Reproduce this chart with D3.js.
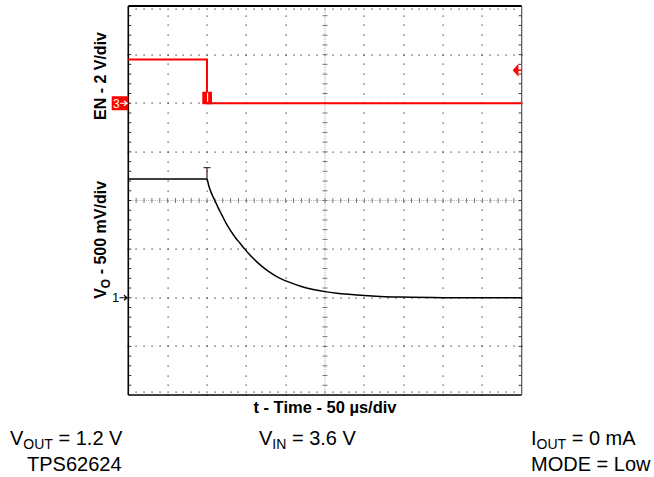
<!DOCTYPE html>
<html>
<head>
<meta charset="utf-8">
<script src="https://cdn.jsdelivr.net/npm/d3@7"></script>
<style>
  html, body { margin: 0; padding: 0; background: #fff; }
  svg { display: block; }
  text { font-family: "Liberation Sans", Arial, Helvetica, sans-serif; }
</style>
</head>
<body>
<svg id="chart" width="654" height="477"></svg>
<script>
// ---------------- data ----------------
// time axis: 10 divisions x 50 us
const timeDomainUs = [0, 500];
// Channel 1: V_O (V), 500 mV/div, ground 2 div above bottom
const voTimeUs = [0, 50, 100, 102, 104, 107, 110, 114, 119, 124, 130, 136, 142, 148, 154, 160, 168, 176, 185, 193, 206, 220, 235, 250, 265, 280, 300, 320, 340, 360, 400, 450, 500];
const voVolts  = [1.22, 1.22, 1.22, 1.16, 1.11, 1.05, 1.00, 0.93, 0.85, 0.77, 0.69, 0.62, 0.56, 0.50, 0.445, 0.395, 0.335, 0.283, 0.235, 0.20, 0.155, 0.115, 0.085, 0.063, 0.047, 0.035, 0.022, 0.013, 0.008, 0.004, 0.001, 0, 0];
// Channel 3: EN (V), 2 V/div, ground 2 div below top
const enTimeUs = [0, 100, 100, 500];
const enVolts  = [1.8, 1.8, 0, 0];
const triggerLevelV = 1.36;
const triggerTimeUs = 100;
// axis / annotation labels
const enAxisLabel = "EN - 2 V/div";
const xAxisLabel = "t - Time - 50 µs/div";
const notes = [
  { main: "V", sub: "OUT", rest: " = 1.2 V", x: 10, y: 445 },
  { main: "TPS62624", sub: "", rest: "", x: 27, y: 471 },
  { main: "V", sub: "IN", rest: " = 3.6 V", x: 259, y: 445 },
  { main: "I", sub: "OUT", rest: " = 0 mA", x: 531, y: 445 },
  { main: "MODE = Low", sub: "", rest: "", x: 531, y: 471 }
];

// ---------------- layout ----------------
const L = 128.3, R = 521.7, T = 6, B = 395;
const svg = d3.select("#chart");

const x = d3.scaleLinear().domain(timeDomainUs).range([L, R]);
const xDiv = d3.scaleLinear().domain([0, 10]).range([L, R]);
const yDiv = d3.scaleLinear().domain([0, 8]).range([T, B]);
const yVo = d3.scaleLinear().domain([-1, 3]).range([B, T]);
const yEn = d3.scaleLinear().domain([-12, 4]).range([B, T]);

const g = svg.append("g");

// ---------------- graticule ----------------
const dots = [];
for (let i = 1; i <= 9; i++) {
  if (i === 5) continue;
  for (let j = 0; j <= 40; j++) dots.push([xDiv(i), yDiv(j / 5)]);
}
for (let i = 1; i <= 7; i++) {
  if (i === 4) continue;
  for (let j = 0; j <= 50; j++) dots.push([xDiv(j / 5), yDiv(i)]);
}
for (let j = 1; j < 50; j++) {
  dots.push([xDiv(j / 5), T + 3]);
  dots.push([xDiv(j / 5), B - 3]);
}
g.append("g").selectAll("rect").data(dots).join("rect")
  .attr("x", d => Math.round(d[0]) - 0.5)
  .attr("y", d => Math.round(d[1]) - 0.5)
  .attr("width", 1.2).attr("height", 1.2)
  .attr("fill", "#3a3a3a");

// center lines: dense dotted
g.append("line")
  .attr("x1", xDiv(5)).attr("x2", xDiv(5)).attr("y1", T).attr("y2", B)
  .attr("stroke", "#b0b0b0").attr("stroke-width", 1.2).attr("stroke-dasharray", "1,1.2");
g.append("line")
  .attr("x1", L).attr("x2", R).attr("y1", yDiv(4)).attr("y2", yDiv(4))
  .attr("stroke", "#b0b0b0").attr("stroke-width", 1.2).attr("stroke-dasharray", "1,1.2");
const vTicks = d3.range(1, 40).map(j => j / 5);
g.append("g").selectAll("line").data(vTicks).join("line")
  .attr("x1", xDiv(5) - 2.5).attr("x2", xDiv(5) + 2.5)
  .attr("y1", d => yDiv(d)).attr("y2", d => yDiv(d))
  .attr("stroke", "#777").attr("stroke-width", 1);
const hTicks = d3.range(1, 50).map(j => j / 5);
g.append("g").selectAll("line").data(hTicks).join("line")
  .attr("y1", yDiv(4) - 2.5).attr("y2", yDiv(4) + 2.5)
  .attr("x1", d => xDiv(d)).attr("x2", d => xDiv(d))
  .attr("stroke", "#777").attr("stroke-width", 1);
g.append("g").selectAll("line").data(vTicks).join("line")
  .attr("x1", L).attr("x2", L + 3)
  .attr("y1", d => yDiv(d)).attr("y2", d => yDiv(d))
  .attr("stroke", "#333").attr("stroke-width", 1);
g.append("g").selectAll("line").data(vTicks).join("line")
  .attr("x1", R - 3).attr("x2", R)
  .attr("y1", d => yDiv(d)).attr("y2", d => yDiv(d))
  .attr("stroke", "#333").attr("stroke-width", 1);

// border
g.append("line").attr("x1", L).attr("x2", R).attr("y1", T).attr("y2", T)
  .attr("stroke", "#000").attr("stroke-width", 2);
g.append("line").attr("x1", L).attr("x2", R).attr("y1", B).attr("y2", B)
  .attr("stroke", "#000").attr("stroke-width", 1.6);
g.append("line").attr("x1", L).attr("x2", L).attr("y1", T).attr("y2", B)
  .attr("stroke", "#000").attr("stroke-width", 1.6);
g.append("line").attr("x1", R).attr("x2", R).attr("y1", T).attr("y2", B)
  .attr("stroke", "#555").attr("stroke-width", 1.2);

// ---------------- traces ----------------
const red = "#ff0000";
const enData = enTimeUs.map((t, i) => [t, enVolts[i]]);
g.append("path").datum(enData)
  .attr("d", d3.line().x(d => x(d[0])).y(d => yEn(d[1])))
  .attr("fill", "none").attr("stroke", red).attr("stroke-width", 2);
// glitch block at EN falling edge, split by a thin white gap
const gx = x(triggerTimeUs);
g.append("rect").attr("x", gx - 4.7).attr("y", yEn(0) - 11.5).attr("width", 9.7).attr("height", 12.5).attr("fill", red);
g.append("line").attr("x1", gx + 0.6).attr("x2", gx + 0.6).attr("y1", yEn(0) - 10.5).attr("y2", yEn(0) - 1.5)
  .attr("stroke", "#fff").attr("stroke-width", 1.2);

const voData = voTimeUs.map((t, i) => [t, voVolts[i]]);
g.append("path").datum(voData)
  .attr("d", d3.line().curve(d3.curveMonotoneX).x(d => x(d[0])).y(d => yVo(d[1])))
  .attr("fill", "none").attr("stroke", "#000").attr("stroke-width", 1.5);

// trigger position marker on Vo
const ty = yVo(voVolts[voTimeUs.indexOf(triggerTimeUs)]);
g.append("path")
  .attr("d", `M${gx - 3.5},${ty - 11.5}H${gx + 3.5}M${gx},${ty - 11.5}V${ty}`)
  .attr("stroke", "#4a3030").attr("stroke-width", 1.3).attr("fill", "none");

// trigger level arrow (right edge)
const tly = yEn(triggerLevelV);
g.append("path")
  .attr("d", `M${R - 8},${tly}L${R - 4},${tly - 4.5}L${R - 4},${tly + 4.5}Z M${R - 5},${tly}H${R}`)
  .attr("fill", red).attr("stroke", red).attr("stroke-width", 1.5);

// ---------------- channel ground markers ----------------
const y3 = yEn(0);
g.append("rect").attr("x", 111.7).attr("y", y3 - 7).attr("width", L - 111.7).attr("height", 14).attr("fill", red);
g.append("text").attr("x", 113).attr("y", y3 + 4.5).attr("fill", "#fff")
  .attr("font-size", 12).text("3");
g.append("path")
  .attr("d", `M120,${y3}H126.5 M124,${y3 - 2.5}L127,${y3}L124,${y3 + 2.5}`)
  .attr("stroke", "#fff").attr("stroke-width", 1.2).attr("fill", "none");
const y1 = yVo(0);
g.append("text").attr("x", 112).attr("y", y1 + 4.5).attr("fill", "#000")
  .attr("font-size", 13).text("1");
g.append("path")
  .attr("d", `M119.5,${y1}H126.5 M124,${y1 - 2.5}L127,${y1}L124,${y1 + 2.5}`)
  .attr("stroke", "#000").attr("stroke-width", 1.2).attr("fill", "none");

// ---------------- axis labels ----------------
g.append("text")
  .attr("transform", `translate(106,${yDiv(1.44)}) rotate(-90)`)
  .attr("text-anchor", "middle").attr("font-size", 16).attr("font-weight", "bold")
  .text(enAxisLabel);

const voLab = g.append("text")
  .attr("transform", `translate(106,${yDiv(4.81)}) rotate(-90)`)
  .attr("text-anchor", "middle").attr("font-size", 16).attr("font-weight", "bold");
voLab.append("tspan").text("V");
voLab.append("tspan").attr("font-size", 12).attr("dy", 4).text("O");
voLab.append("tspan").attr("dy", -4).text(" - 500 mV/div");

g.append("text")
  .attr("x", xDiv(5)).attr("y", 413)
  .attr("text-anchor", "middle").attr("font-size", 16.5).attr("font-weight", "bold")
  .text(xAxisLabel);

// ---------------- notes ----------------
notes.forEach(n => {
  const t = g.append("text").attr("x", n.x).attr("y", n.y).attr("font-size", 20).attr("fill", "#000");
  t.append("tspan").text(n.main);
  if (n.sub) {
    t.append("tspan").attr("font-size", 14).attr("dy", 4).text(n.sub);
    t.append("tspan").attr("dy", -4).text(n.rest);
  }
});
</script>
</body>
</html>
